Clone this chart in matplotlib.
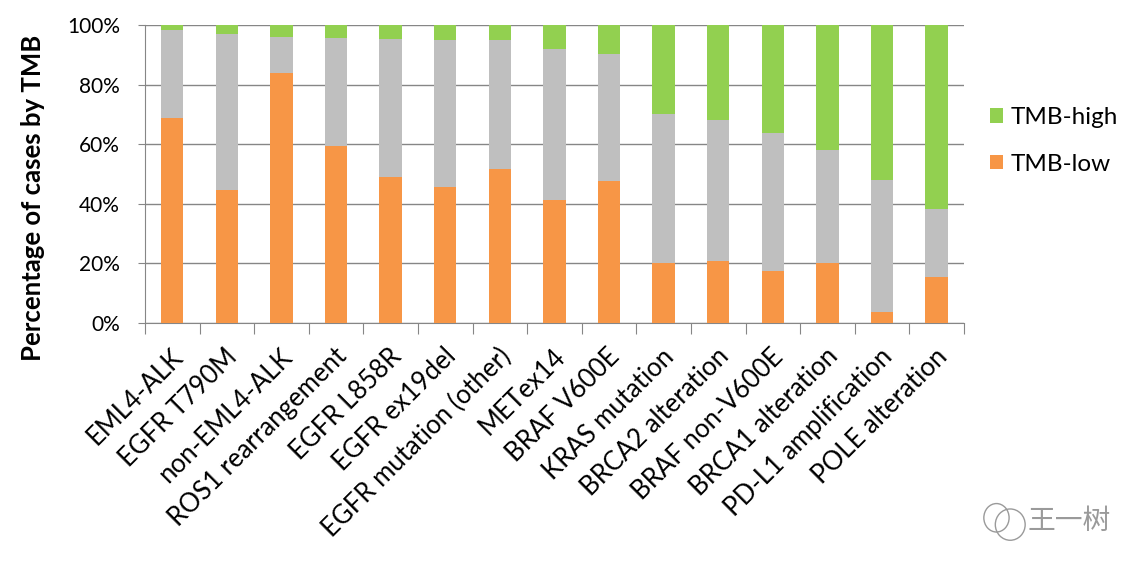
import numpy as np
import matplotlib.pyplot as plt
from matplotlib.patches import Ellipse

plt.rcParams['font.family'] = ['Lato', 'DejaVu Sans']

categories = ['EML4-ALK', 'EGFR T790M', 'non-EML4-ALK', 'ROS1 rearrangement',
              'EGFR L858R', 'EGFR ex19del', 'EGFR mutation (other)', 'METex14',
              'BRAF V600E', 'KRAS mutation', 'BRCA2 alteration', 'BRAF non-V600E',
              'BRCA1 alteration', 'PD-L1 amplification', 'POLE alteration']
# percent of cases: TMB-low, and the top of the middle (grey) segment
tmb_low = [68.9, 44.7, 83.8, 59.4, 48.9, 45.8, 51.7, 41.3, 47.5, 20.1, 20.7, 17.5, 20.1, 3.6, 15.6]
mid_top = [98.3, 96.9, 96.1, 95.5, 95.3, 94.9, 94.9, 92.0, 90.2, 70.3, 68.2, 63.7, 58.1, 48.0, 38.3]

tmb_low = np.array(tmb_low)
tmb_mid = np.array(mid_top) - tmb_low
tmb_high = 100 - np.array(mid_top)

orange = '#F79646'
grey = '#BFBFBF'
green = '#92D050'

fig = plt.figure(figsize=(11.48, 5.69), dpi=100)
ax = fig.add_axes([0.1263, 0.4323, 0.7134, 0.5237])

x = np.arange(len(categories))
w = 0.41
ax.bar(x, tmb_low, w, color=orange, label='TMB-low', zorder=3)
ax.bar(x, tmb_mid, w, bottom=tmb_low, color=grey, zorder=3)
ax.bar(x, tmb_high, w, bottom=tmb_low + tmb_mid, color=green, label='TMB-high', zorder=3)

ax.set_xlim(-0.5, len(categories) - 0.5)
ax.set_ylim(0, 100)
ax.set_yticks(np.arange(0, 101, 20))
ax.set_yticklabels(['%d%%' % v for v in range(0, 101, 20)], fontsize=15)
ax.yaxis.grid(True, color='#868686', linewidth=1, zorder=0)
ax.tick_params(axis='y', length=5, color='#868686', pad=13)

# category boundary ticks like Excel
ax.set_xticks(np.arange(-0.5, len(categories), 1.0))
ax.set_xticklabels([])
ax.tick_params(axis='x', length=8, color='#868686')
for i, c in enumerate(categories):
    ax.text(i - 0.04, -7, c, rotation=45, ha='right', va='top',
            rotation_mode='anchor', fontsize=18.5, transform=ax.transData)

for s in ['top', 'right']:
    ax.spines[s].set_visible(False)
for s in ['left', 'bottom']:
    ax.spines[s].set_color('#868686')

ax.set_ylabel('Percentage of cases by TMB', fontsize=18.5, fontweight='bold')
ax.yaxis.set_label_coords(-0.122, 0.42)

h, l = ax.get_legend_handles_labels()
fig.legend(h[::-1], l[::-1], loc='upper left', bbox_to_anchor=(0.843, 0.85),
           frameon=False, fontsize=17.5, handlelength=0.55, handleheight=0.55,
           handletextpad=0.3, labelspacing=1.05)

# watermark
fig.text(0.895, 0.085, '王一树', fontsize=20, color='#9a9a9a',
         family=['Noto Sans CJK SC', 'DejaVu Sans'], ha='left', va='center')
fig.patches.append(Ellipse((0.868, 0.09), 0.022, 0.05, transform=fig.transFigure,
                           fill=False, edgecolor='#9a9a9a', linewidth=1))
fig.patches.append(Ellipse((0.88, 0.078), 0.026, 0.055, transform=fig.transFigure,
                           fill=False, edgecolor='#9a9a9a', linewidth=1))

fig.savefig('out.png', dpi=100)
